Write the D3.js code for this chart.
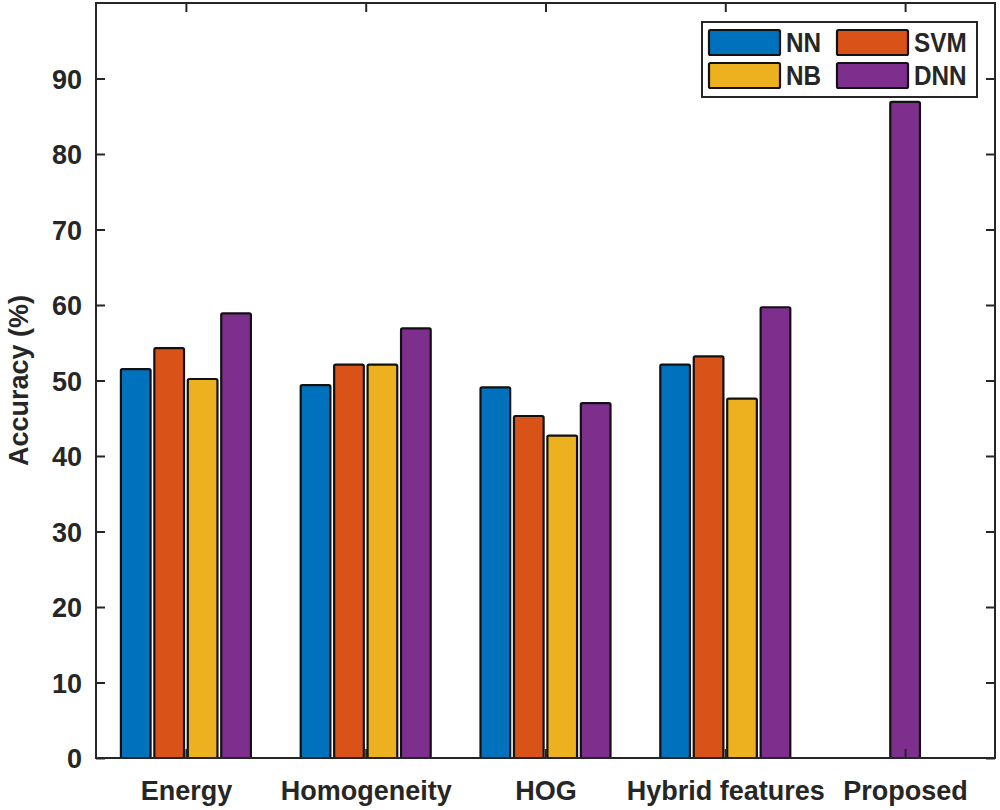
<!DOCTYPE html>
<html><head><meta charset="utf-8">
<script src="https://cdn.jsdelivr.net/npm/d3@7"></script>
<style>body{margin:0;background:#fff}svg{display:block}text{font-family:"Liberation Sans",Arial,sans-serif;font-weight:bold;fill:#262626}</style>
</head><body>
<svg id="c" width="1000" height="810"></svg>
<script>
const categories = ["Energy","Homogeneity","HOG","Hybrid features","Proposed"];
const seriesNames = ["NN","SVM","NB","DNN"];
const NN  = [51.5, 49.4, 49.1, 52.1, null];
const SVM = [54.3, 52.1, 45.3, 53.2, null];
const NB  = [50.2, 52.1, 42.7, 47.6, null];
const DNN = [58.9, 56.9, 47.0, 59.7, 86.9];
const colors = ["#0072BD","#D95319","#EDB120","#7E2F8E"];
const yTicks = [0,10,20,30,40,50,60,70,80,90];

const svg = d3.select("#c");
const L=96, R=995, T=3, B=758;
const x = d3.scaleLinear().domain([0.5,5.5]).range([L,R]);
const y = d3.scaleLinear().domain([0,100]).range([B,T]);
const series=[NN,SVM,NB,DNN];
const slot=0.186, bw=0.165;

const bars=[];
categories.forEach((c,i)=>{
  const present = series.map((s,k)=>k).filter(k=>series[k][i]!=null);
  const n=present.length;
  present.forEach((k,j)=>{
    const off = (j-(n-1)/2)*slot;
    bars.push({cx:i+1+off, v:series[k][i], k});
  });
});
svg.append("g").selectAll("rect").data(bars).join("rect")
  .attr("x",d=>x(d.cx-bw/2)).attr("width",d=>x(d.cx+bw/2)-x(d.cx-bw/2))
  .attr("y",d=>y(d.v)).attr("height",d=>y(0)-y(d.v))
  .attr("fill",d=>colors[d.k]).attr("stroke","#111").attr("stroke-width",2.2).attr("rx",1.5);

// axes
const g=svg.append("g");
g.append("rect").attr("x",L).attr("y",T).attr("width",R-L).attr("height",B-T)
 .attr("fill","none").attr("stroke","#262626").attr("stroke-width",2);
const yl = d3.axisLeft(y).tickValues(yTicks).tickSizeInner(-9).tickSizeOuter(0).tickPadding(14);
const ya=svg.append("g").attr("transform",`translate(${L},0)`).call(yl);
ya.select(".domain").remove();
ya.selectAll("line").attr("stroke","#262626").attr("stroke-width",2);
ya.selectAll("text").style("font-size","27px").attr("dy","0.36em").attr("fill","#262626");
const yr = d3.axisRight(y).tickValues(yTicks).tickSizeInner(-9).tickSizeOuter(0).tickFormat("");
const yra=svg.append("g").attr("transform",`translate(${R},0)`).call(yr);
yra.select(".domain").remove();
yra.selectAll("line").attr("stroke","#262626").attr("stroke-width",2);
const xb = d3.axisBottom(x).tickValues([1,2,3,4,5]).tickFormat((d)=>categories[d-1]).tickSizeInner(-9).tickSizeOuter(0).tickPadding(22);
const xba=svg.append("g").attr("transform",`translate(0,${B})`).call(xb);
xba.select(".domain").remove();
xba.selectAll("line").attr("stroke","#262626").attr("stroke-width",2);
xba.selectAll("text").style("font-size","27px").attr("dy","0.75em").attr("fill","#262626");
const xt = d3.axisTop(x).tickValues([1,2,3,4,5]).tickFormat("").tickSizeInner(-9).tickSizeOuter(0);
const xta=svg.append("g").attr("transform",`translate(0,${T})`).call(xt);
xta.select(".domain").remove();
xta.selectAll("line").attr("stroke","#262626").attr("stroke-width",2);

svg.append("text").attr("transform",`translate(28,${(T+B)/2}) rotate(-90)`)
  .attr("text-anchor","middle").style("font-size","27px").text("Accuracy (%)");

// legend
const lg=svg.append("g");
lg.append("rect").attr("x",702).attr("y",22).attr("width",275).attr("height",75)
  .attr("fill","#fff").attr("stroke","#262626").attr("stroke-width",2);
const lpos=[[709,30],[837,30],[709,63],[837,63]];
seriesNames.forEach((s,k)=>{
  const [lx,ly]=lpos[k];
  lg.append("rect").attr("x",lx).attr("y",ly).attr("width",71).attr("height",25)
    .attr("fill",colors[k]).attr("stroke","#111").attr("stroke-width",2.2).attr("rx",1.5);
  lg.append("text").attr("transform",`translate(${lx+77},${ly+22}) scale(0.9,1)`)
    .style("font-size","27px").attr("fill","#000").text(s);
});
</script>
</body></html>
